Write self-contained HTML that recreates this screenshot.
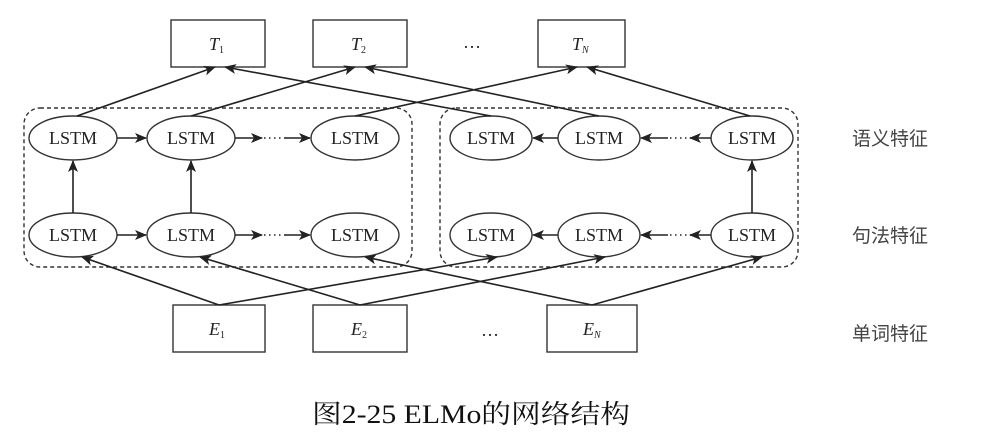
<!DOCTYPE html>
<html><head><meta charset="utf-8"><style>
html,body{margin:0;padding:0;background:#fff;}
svg{display:block;}
</style></head><body>
<svg width="985" height="443" viewBox="0 0 985 443" xmlns="http://www.w3.org/2000/svg">
<defs>
<marker id="a" viewBox="0 0 12 10" refX="11" refY="5" markerWidth="12" markerHeight="10" markerUnits="userSpaceOnUse" orient="auto">
<path d="M0,0 L12,5 L0,10 L3,5 Z" fill="#222"/>
</marker>
</defs>
<g fill="none" stroke="#333" stroke-width="1.4">
<rect x="24" y="108" width="388" height="159" rx="16" stroke-dasharray="4,3"/>
<rect x="440" y="108" width="358" height="159" rx="16" stroke-dasharray="4,3"/>
<rect x="171" y="20" width="94" height="47"/>
<rect x="313" y="20" width="94" height="47"/>
<rect x="538" y="20" width="87" height="47"/>
<rect x="173" y="305" width="92" height="47"/>
<rect x="313" y="305" width="94" height="47"/>
<rect x="547" y="305" width="90" height="47"/>
<ellipse cx="73" cy="138" rx="44" ry="22"/>
<ellipse cx="191" cy="138" rx="44" ry="22"/>
<ellipse cx="355" cy="138" rx="44" ry="22"/>
<ellipse cx="491" cy="138" rx="41" ry="22"/>
<ellipse cx="599" cy="138" rx="41" ry="22"/>
<ellipse cx="752" cy="138" rx="41" ry="22"/>
<ellipse cx="73" cy="235" rx="44" ry="22"/>
<ellipse cx="191" cy="235" rx="44" ry="22"/>
<ellipse cx="355" cy="235" rx="44" ry="22"/>
<ellipse cx="491" cy="235" rx="41" ry="22"/>
<ellipse cx="599" cy="235" rx="41" ry="22"/>
<ellipse cx="752" cy="235" rx="41" ry="22"/>
</g>
<g stroke="#222" stroke-width="1.6" fill="none" marker-end="url(#a)">
<line x1="117" y1="138" x2="146" y2="138"/>
<line x1="235" y1="138" x2="262" y2="138"/>
<line x1="285" y1="138" x2="310" y2="138"/>
<line x1="117" y1="235" x2="146" y2="235"/>
<line x1="235" y1="235" x2="262" y2="235"/>
<line x1="285" y1="235" x2="310" y2="235"/>
<line x1="558" y1="138" x2="533" y2="138"/>
<line x1="711" y1="138" x2="690" y2="138"/>
<line x1="668" y1="138" x2="641" y2="138"/>
<line x1="558" y1="235" x2="533" y2="235"/>
<line x1="711" y1="235" x2="690" y2="235"/>
<line x1="668" y1="235" x2="641" y2="235"/>
<line x1="73" y1="213" x2="73" y2="161"/>
<line x1="191" y1="213" x2="191" y2="161"/>
<line x1="752" y1="213" x2="752" y2="161"/>
<line x1="77" y1="116" x2="215" y2="67"/>
<line x1="491" y1="116" x2="225" y2="67"/>
<line x1="191" y1="116" x2="355" y2="67"/>
<line x1="599" y1="116" x2="365" y2="67"/>
<line x1="355" y1="116" x2="577" y2="67"/>
<line x1="750" y1="116" x2="587" y2="67"/>
<line x1="219" y1="305" x2="82" y2="257"/>
<line x1="219" y1="305" x2="497" y2="257"/>
<line x1="360" y1="305" x2="200" y2="257"/>
<line x1="360" y1="305" x2="605" y2="257"/>
<line x1="592" y1="305" x2="365" y2="257"/>
<line x1="592" y1="305" x2="762" y2="257"/>
</g>
<g stroke="#222" stroke-width="1.6" stroke-dasharray="1.5,3.5">
<line x1="264" y1="138" x2="286" y2="138"/>
<line x1="264" y1="235" x2="286" y2="235"/>
<line x1="670" y1="138" x2="692" y2="138"/>
<line x1="670" y1="235" x2="692" y2="235"/>
</g>
<g font-family="Liberation Serif, serif" font-size="18" fill="#222" text-anchor="middle">
<text x="73" y="144">LSTM</text>
<text x="191" y="144">LSTM</text>
<text x="355" y="144">LSTM</text>
<text x="491" y="144">LSTM</text>
<text x="599" y="144">LSTM</text>
<text x="752" y="144">LSTM</text>
<text x="73" y="241">LSTM</text>
<text x="191" y="241">LSTM</text>
<text x="355" y="241">LSTM</text>
<text x="491" y="241">LSTM</text>
<text x="599" y="241">LSTM</text>
<text x="752" y="241">LSTM</text>
<text x="472" y="48">…</text>
<text x="490" y="336">…</text>
</g>
<g font-family="Liberation Serif, serif" font-size="18" font-style="italic" fill="#222">
<text x="209" y="50">T<tspan font-size="10" font-style="normal" dy="3">1</tspan></text>
<text x="351" y="50">T<tspan font-size="10" font-style="normal" dy="3">2</tspan></text>
<text x="572" y="50">T<tspan font-size="10" dy="3">N</tspan></text>
<text x="209" y="335">E<tspan font-size="10" font-style="normal" dy="3">1</tspan></text>
<text x="351" y="335">E<tspan font-size="10" font-style="normal" dy="3">2</tspan></text>
<text x="583" y="335">E<tspan font-size="10" dy="3">N</tspan></text>
</g>
<g font-family="Noto Sans CJK SC, sans-serif" font-size="19" fill="#444">
<text x="852" y="145">语义特征</text>
<text x="852" y="242">句法特征</text>
<text x="852" y="340">单词特征</text>
</g>
<text x="312" y="423" font-family="Liberation Serif, Noto Serif CJK SC, serif" font-size="26" fill="#111" textLength="318" lengthAdjust="spacingAndGlyphs">图2-25  ELMo的网络结构</text>
</svg>
</body></html>
